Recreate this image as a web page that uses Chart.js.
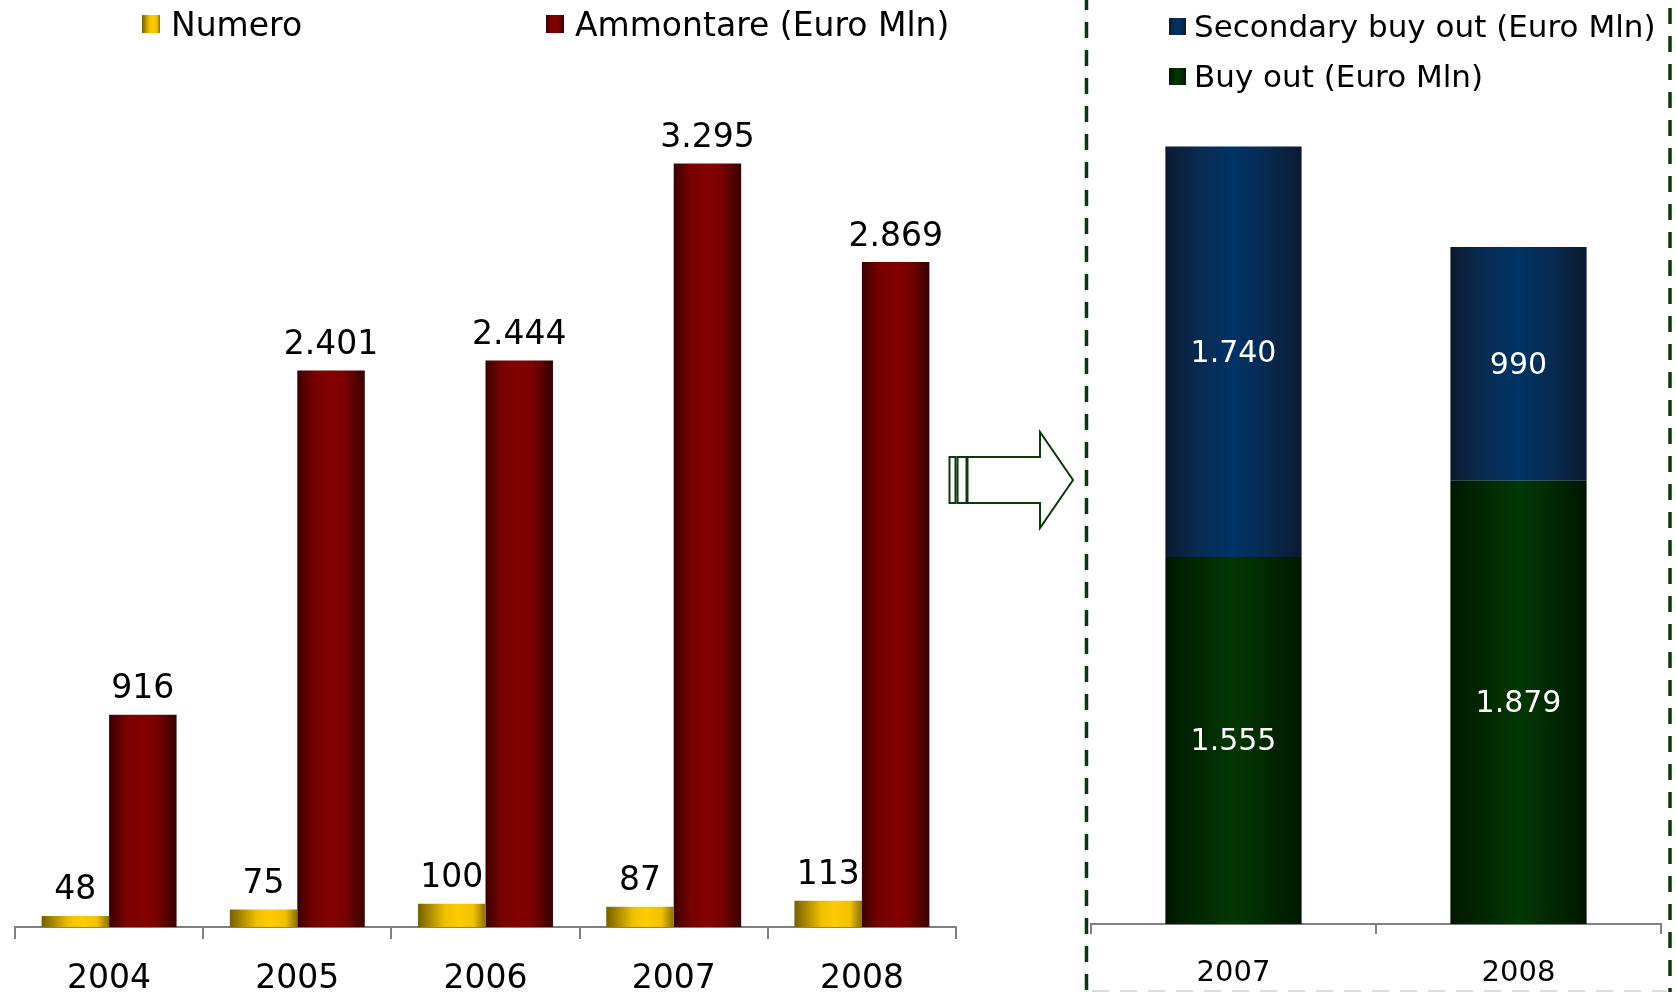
<!DOCTYPE html>
<html><head><meta charset="utf-8">
<script src="https://cdn.jsdelivr.net/npm/chart.js@4.4.1/dist/chart.umd.min.js"></script>
<style>
html,body{margin:0;padding:0;background:#fff;width:1676px;height:992px;overflow:hidden;font-family:'DejaVu Sans',Verdana,sans-serif;}
canvas{position:absolute;top:0;}
#cL{left:0;}
#cR{left:1080px;}
svg{position:absolute;left:0;top:0;}
.leg{position:absolute;display:flex;align-items:center;white-space:nowrap;color:#000;line-height:1;}
.sw{display:inline-block;flex:none;}
</style></head><body>
<svg id="deco" width="1676" height="992">
  <line x1="1086.5" y1="0" x2="1086.5" y2="992" stroke="#0a3a0a" stroke-width="3.5" stroke-dasharray="16 12" stroke-dashoffset="6"/>
  <line x1="1670" y1="0" x2="1670" y2="992" stroke="#0a3a0a" stroke-width="3.5" stroke-dasharray="16 12" stroke-dashoffset="-8"/>
  <line x1="1092" y1="991" x2="1667" y2="991" stroke="#dcdcdc" stroke-width="2" stroke-dasharray="17 11"/>
  <rect x="949.5" y="457" width="6" height="46" fill="#fff" stroke="#0a3a0a" stroke-width="2"/>
  <rect x="957.5" y="457" width="9" height="46" fill="#fff" stroke="#0a3a0a" stroke-width="2"/>
  <polygon points="967.5,457 1040,457 1040,432 1073,480 1040,528 1040,503 967.5,503" fill="#fff" stroke="#0a3a0a" stroke-width="2"/>
</svg>
<canvas id="cL" width="1000" height="1021"></canvas>
<canvas id="cR" width="596" height="1021"></canvas>
<div id="legends"></div>
<script>
// ---- data ----
const leftYears = ['2004', '2005', '2006', '2007', '2008'];
const numero = [48, 75, 100, 87, 113];
const ammontare = [916, 2401, 2444, 3295, 2869];
const leftLabels = ['Numero', 'Ammontare (Euro Mln)'];

const rightYears = ['2007', '2008'];
const buyOut = [1555, 1879];
const secondaryBuyOut = [1740, 990];
const rightLabels = ['Buy out (Euro Mln)', 'Secondary buy out (Euro Mln)'];

// ---- styles ----
const GRAD = {
  numero: [[0,'#766000'],[0.4,'#f0c000'],[0.6,'#ffcc00'],[0.82,'#f2c200'],[1,'#8a7000']],
  ammontare: [[0,'#3a0000'],[0.25,'#780000'],[0.5,'#830000'],[0.7,'#7a0000'],[1,'#380000']],
  buyout: [[0,'#001800'],[0.5,'#033703'],[1,'#001800']],
  secondary: [[0,'#0b1a30'],[0.25,'#082b52'],[0.5,'#003366'],[0.75,'#072a50'],[1,'#0b1a30']]
};
const FONT = "'DejaVu Sans', Verdana, sans-serif";
Chart.defaults.font.family = FONT;
Chart.defaults.color = '#000';

function fmt(v){ return String(v).replace(/\B(?=(\d{3})+(?!\d))/g, '.'); }
function cssGrad(stops){ return 'linear-gradient(to right,' + stops.map(s => s[1] + ' ' + (s[0]*100) + '%').join(',') + ')'; }

const gradientPlugin = {
  id: 'barGradients',
  beforeDatasetsDraw(chart) {
    const ctx = chart.ctx;
    chart.data.datasets.forEach((ds, di) => {
      const meta = chart.getDatasetMeta(di);
      meta.data.forEach(el => {
        const x0 = el.x - el.width / 2, x1 = el.x + el.width / 2;
        const g = ctx.createLinearGradient(x0, 0, x1, 0);
        GRAD[ds.gradKey].forEach(s => g.addColorStop(s[0], s[1]));
        try { el.options.backgroundColor = g; } catch (e) {}
        if (el.options.backgroundColor !== g) el.options = Object.assign({}, el.options, {backgroundColor: g});
      });
    });
  }
};

const labelPlugin = {
  id: 'valueLabels',
  afterDatasetsDraw(chart, args, opts) {
    const ctx = chart.ctx;
    ctx.save();
    ctx.textAlign = 'center';
    ctx.textBaseline = 'middle';
    ctx.font = opts.size + 'px ' + FONT;
    ctx.fillStyle = opts.color;
    chart.data.datasets.forEach((ds, di) => {
      const meta = chart.getDatasetMeta(di);
      meta.data.forEach((el, i) => {
        const y = opts.inside ? (el.y + el.base) / 2 + opts.offset : el.y - opts.offset;
        ctx.fillText(fmt(ds.data[i]), el.x, y);
      });
    });
    ctx.restore();
  }
};

function xAxis(size, tickLen, pad) {
  return {
    display: true,
    border: { display: true, color: '#808080', width: 2 },
    grid: { display: true, drawOnChartArea: false, drawTicks: true, tickLength: tickLen, color: '#808080', lineWidth: 2, offset: true },
    ticks: { color: '#000', font: { size: size, lineHeight: 1 }, padding: pad, maxRotation: 0 }
  };
}

const chartL = new Chart(document.getElementById('cL'), {
  type: 'bar',
  data: {
    labels: leftYears,
    datasets: [
      { label: leftLabels[0], data: numero, gradKey: 'numero', backgroundColor: () => '#ffcc00', borderWidth: 0 },
      { label: leftLabels[1], data: ammontare, gradKey: 'ammontare', backgroundColor: () => '#800000', borderWidth: 0 }
    ]
  },
  options: {
    responsive: false, animation: false, events: [], devicePixelRatio: 1,
    layout: { padding: { left: 15, right: 44, top: 0, bottom: 1 } },
    datasets: { bar: { categoryPercentage: 0.717, barPercentage: 1 } },
    scales: {
      x: xAxis(33, 12, 24),
      y: { display: false, min: 0, max: 4000 }
    },
    plugins: { legend: { display: false }, tooltip: { enabled: false },
      valueLabels: { size: 33, color: '#000', offset: 25, inside: false } }
  },
  plugins: [gradientPlugin, labelPlugin]
});

const chartR = new Chart(document.getElementById('cR'), {
  type: 'bar',
  data: {
    labels: rightYears,
    datasets: [
      { label: rightLabels[0], data: buyOut, gradKey: 'buyout', backgroundColor: () => '#003300', borderWidth: 0 },
      { label: rightLabels[1], data: secondaryBuyOut, gradKey: 'secondary', backgroundColor: () => '#003366', borderWidth: 0 }
    ]
  },
  options: {
    responsive: false, animation: false, events: [], devicePixelRatio: 1,
    layout: { padding: { left: 11, right: 15, top: 0, bottom: 8 } },
    datasets: { bar: { categoryPercentage: 0.478, barPercentage: 1 } },
    scales: {
      x: Object.assign(xAxis(29, 10, 25), { stacked: true }),
      y: { display: false, stacked: true, min: 0, max: 3916 }
    },
    plugins: { legend: { display: false }, tooltip: { enabled: false },
      valueLabels: { size: 30, color: '#fff', offset: 2, inside: true } }
  },
  plugins: [gradientPlugin, labelPlugin]
});

// ---- legends (HTML, built from datasets) ----
function addLegend(ds, left, top, size, box, gap) {
  const d = document.createElement('div');
  d.className = 'leg';
  d.style.left = left + 'px';
  d.style.top = top + 'px';
  d.style.fontSize = size + 'px';
  d.style.height = box + 'px';
  const sw = document.createElement('span');
  sw.className = 'sw';
  sw.style.width = box + 'px'; sw.style.height = box + 'px';
  sw.style.background = cssGrad(GRAD[ds.gradKey]);
  sw.style.marginRight = gap + 'px';
  const t = document.createElement('span');
  t.textContent = ds.label;
  d.appendChild(sw); d.appendChild(t);
  document.getElementById('legends').appendChild(d);
}
const dl = chartL.data.datasets, dr = chartR.data.datasets;
addLegend(dl[0], 142, 15, 33, 18, 11);
addLegend(dl[1], 546, 15, 33, 18, 11);
addLegend(dr[1], 1169, 18, 31, 17, 8);
addLegend(dr[0], 1169, 68, 31, 17, 8);
</script>
</body></html>
